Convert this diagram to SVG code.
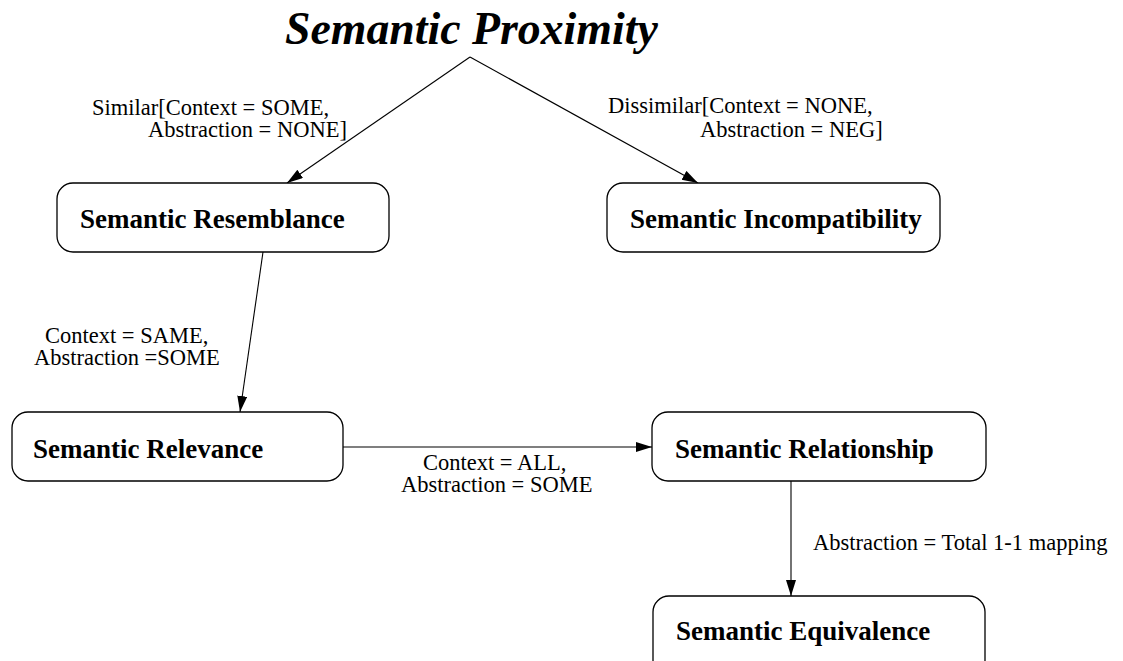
<svg xmlns="http://www.w3.org/2000/svg" width="1123" height="661" viewBox="0 0 1123 661">
<style>
.box{fill:#fff;stroke:#000;stroke-width:1.3}
.nl{font-family:"Liberation Serif",serif;font-weight:bold;font-size:27px;fill:#000}
.el{font-family:"Liberation Serif",serif;font-size:22.5px;fill:#000}
.edge{fill:none;stroke:#000;stroke-width:1.1}
</style>
<defs>
<marker id="ah" markerUnits="userSpaceOnUse" markerWidth="18" markerHeight="12" refX="16" refY="5" orient="auto">
<path d="M0,0 L16,5 L0,10 Z" fill="#000"/>
</marker>
</defs>
<rect width="1123" height="661" fill="#fff"/>
<g id="title">
<text x="285" y="44" font-family="Liberation Serif,serif" font-weight="bold" font-style="italic" font-size="45.8">Semantic Proximity</text>
</g>
<g id="connectors">
<path class="edge" d="M470,57 L287,183" marker-end="url(#ah)"/>
<path class="edge" d="M470,57 L698,183" marker-end="url(#ah)"/>
<path class="edge" d="M263,252 L240,412" marker-end="url(#ah)"/>
<path class="edge" d="M343,447 L652,447" marker-end="url(#ah)"/>
<path class="edge" d="M791,481 L791,596" marker-end="url(#ah)"/>
<text class="el" x="92" y="115">Similar[Context = SOME,</text>
<text class="el" x="148" y="137">Abstraction = NONE]</text>
<text class="el" x="608" y="113">Dissimilar[Context = NONE,</text>
<text class="el" x="700" y="137">Abstraction = NEG]</text>
<text class="el" x="45" y="343">Context = SAME,</text>
<text class="el" x="34" y="365">Abstraction =SOME</text>
<text class="el" x="423" y="470">Context = ALL,</text>
<text class="el" x="401" y="492">Abstraction = SOME</text>
<text class="el" x="813" y="550">Abstraction = Total 1-1 mapping</text>
</g>
<g id="resemblance">
<rect class="box" x="57" y="183" width="332" height="69" rx="16"/>
<text class="nl" x="80" y="228">Semantic Resemblance</text>
</g>
<g id="incompatibility">
<rect class="box" x="607" y="183" width="333" height="69" rx="16"/>
<text class="nl" x="630" y="228">Semantic Incompatibility</text>
</g>
<g id="relevance">
<rect class="box" x="12" y="412" width="331" height="69" rx="16"/>
<text class="nl" x="33" y="458">Semantic Relevance</text>
</g>
<g id="relationship">
<rect class="box" x="652" y="412" width="334" height="69" rx="16"/>
<text class="nl" x="675" y="458">Semantic Relationship</text>
</g>
<g id="equivalence">
<rect class="box" x="653" y="596" width="332" height="80" rx="16"/>
<text class="nl" x="676" y="640">Semantic Equivalence</text>
</g>
</svg>
